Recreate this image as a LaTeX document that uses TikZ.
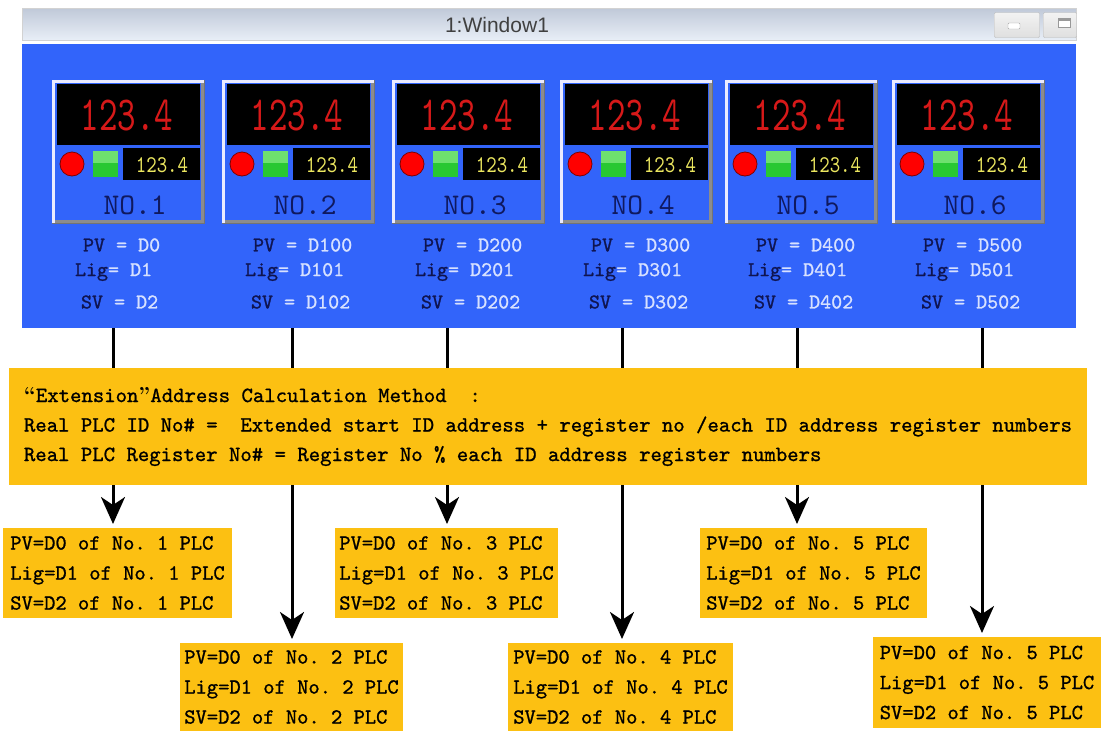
\documentclass[tikz,border=0pt]{standalone}
\usepackage{fontspec}
\usepackage{graphicx}
\usetikzlibrary{arrows.meta}
\setmonofont{lmmono10-regular.otf}[FakeBold=1]
\newfontfamily\lcdfont{lmmono10-regular.otf}
\newfontfamily\titlefont{Liberation Sans}
\definecolor{panelblue}{RGB}{50,100,250}
\definecolor{calcyellow}{RGB}{252,192,18}
\definecolor{lcdred}{RGB}{215,25,25}
\definecolor{lcdyellow}{RGB}{235,230,95}
\definecolor{navytext}{RGB}{15,25,95}
\definecolor{regname}{RGB}{15,20,80}
\definecolor{reglight}{RGB}{215,225,255}
\definecolor{keygreen}{RGB}{40,200,50}
\definecolor{keylight}{RGB}{110,225,110}
\definecolor{bartop}{RGB}{192,201,216}
\definecolor{barbottom}{RGB}{232,238,247}
\newcommand{\narrow}[2]{\scalebox{#1}[1]{#2}}

\begin{document}
\begin{tikzpicture}[x=1pt, y=-1pt,
        every node/.style={outer sep=0pt},
        winbar/.style={draw=gray!35, top color=bartop, bottom color=barbottom, anchor=north west, minimum width=1054pt, minimum height=32pt},
        winbtn/.style={draw=gray!55, top color=white!90!gray, bottom color=gray!25, rounded corners=1pt, minimum height=25pt},
        panel/.style={fill=panelblue, anchor=north west, minimum width=1054pt, minimum height=284pt},
        meterbox/.style={fill=panelblue, draw=black!55, anchor=north west, minimum width=152pt, minimum height=143pt},
        bevlight/.style={white!92!blue, line width=3pt},
        bevdark/.style={black!45, line width=3pt},
        bigdigits/.style={text=lcdred, font=\fontsize{49}{49}\selectfont\lcdfont, inner sep=0pt},
        smalldigits/.style={text=lcdyellow, font=\fontsize{24}{24}\selectfont\lcdfont, inner sep=0pt},
        lamp/.style={circle, fill=red, draw=red!50!black, thick, minimum size=24pt, inner sep=0pt},
        meterno/.style={text=navytext, font=\fontsize{30}{30}\selectfont\lcdfont, inner sep=0pt},
        reglabel/.style={text=reglight, anchor=west, font=\fontsize{21}{21}\selectfont\ttfamily, inner sep=0pt},
        calcbox/.style={fill=calcyellow, anchor=north west, align=left, minimum width=1078pt, minimum height=117pt, font=\fontsize{21.7}{29.5}\selectfont\ttfamily},
        outbox/.style={fill=calcyellow, anchor=north west, align=left, minimum height=90pt, inner sep=0pt, font=\fontsize{21.5}{30}\selectfont\ttfamily},
        link/.style={line width=3pt},
        flow/.style={line width=3pt, -{Stealth[length=27pt,width=24pt,inset=8pt]}, shorten >=4pt}
    ]
    \useasboundingbox[fill=white] (0,0) rectangle (1102,731);

    % window frame
    \node[winbar] (bar) at (22,8) {};
    \node[font=\titlefont\fontsize{21}{21}\selectfont, text=black!75] (wintitle) at (497,25) {1:Window1};
    \node[winbtn, minimum width=45pt] (btnmin) at (1017,25) {};
    \node[winbtn, minimum width=33pt] (btnmax) at (1060,25) {};
    \draw[gray!70, fill=white, rounded corners=1pt] (1008,23) rectangle (1020,29);
    \draw[gray!80, fill=white] (1058,18) rectangle (1070,27);
    \fill[gray!80] (1058,18) rectangle (1070,21);
    \node[panel] (panel) at (22,44) {};

    % meters
    \foreach \x/\pa/\pb/\pc [count=\i] in {52/D0/D1/D2, 222/D100/D101/D102, 392/D200/D201/D202,
            560/D300/D301/D302, 725/D400/D401/D402, 892/D500/D501/D502}{
        \node[meterbox] (m\i) at (\x,80) {};
        \draw[bevlight] (\x+1.5,223) -- (\x+1.5,81.5) -- (\x+152,81.5);
        \draw[bevdark] (\x+150.5,83) -- (\x+150.5,221.5) -- (\x+3,221.5);
        \fill[black] (\x+5,84) rectangle (\x+148,145);
        \node[bigdigits] (big\i) at (\x+75,116) {\narrow{0.72}{123.4}};
        \node[lamp] (lamp\i) at (\x+20,164) {};
        \fill[keygreen] (\x+41,151) rectangle (\x+66,177);
        \fill[keylight] (\x+41,151) rectangle (\x+66,163);
        \fill[black] (\x+71,148) rectangle (\x+148,180);
        \node[smalldigits] (small\i) at (\x+110,165) {\narrow{0.83}{123.4}};
        \node[meterno] (no\i) at (\x+83,205) {NO.\i};
        \node[reglabel] (pv\i) at (\x+31,245) {\textcolor{regname}{PV} = \pa};
        \node[reglabel] (lig\i) at (\x+23,272) {\textcolor{regname}{Lig}= \pb};
        \node[reglabel] (sv\i) at (\x+29,302) {\textcolor{regname}{SV} = \pc};
    }

    % calculation note
    \node[calcbox] (calc) at (9,368) {%
        {\rmfamily\bfseries “}Extension{\rmfamily\bfseries ”}Address Calculation Method \ :\\
        Real PLC ID No\# = \ Extended start ID address + register no /each ID address register numbers\\
        Real PLC Register No\# = Register No \% each ID address register numbers};

    % real PLC boxes
    \node[outbox, minimum width=229pt] (out1) at (3,528) {PV=D0 of No. 1 PLC\\Lig=D1 of No. 1 PLC\\SV=D2 of No. 1 PLC};
    \node[outbox, minimum width=223pt, minimum height=88pt] (out2) at (180,643) {PV=D0 of No. 2 PLC\\Lig=D1 of No. 2 PLC\\SV=D2 of No. 2 PLC};
    \node[outbox, minimum width=223pt] (out3) at (335,528) {PV=D0 of No. 3 PLC\\Lig=D1 of No. 3 PLC\\SV=D2 of No. 3 PLC};
    \node[outbox, minimum width=225pt, minimum height=88pt] (out4) at (508,643) {PV=D0 of No. 4 PLC\\Lig=D1 of No. 4 PLC\\SV=D2 of No. 4 PLC};
    \node[outbox, minimum width=227pt] (out5) at (700,528) {PV=D0 of No. 5 PLC\\Lig=D1 of No. 5 PLC\\SV=D2 of No. 5 PLC};
    \node[outbox, minimum width=228pt, minimum height=91pt] (out6) at (873,637) {PV=D0 of No. 5 PLC\\Lig=D1 of No. 5 PLC\\SV=D2 of No. 5 PLC};

    % connectors
    \foreach \lx [count=\i] in {113,292,447,622,797,982}{
        \coordinate (c\i) at (\lx,0);
        \draw[link] (c\i |- panel.south) -- (c\i |- calc.north);
        \draw[flow] (c\i |- calc.south) -- (c\i |- out\i.north);
    }
\end{tikzpicture}
\end{document}
